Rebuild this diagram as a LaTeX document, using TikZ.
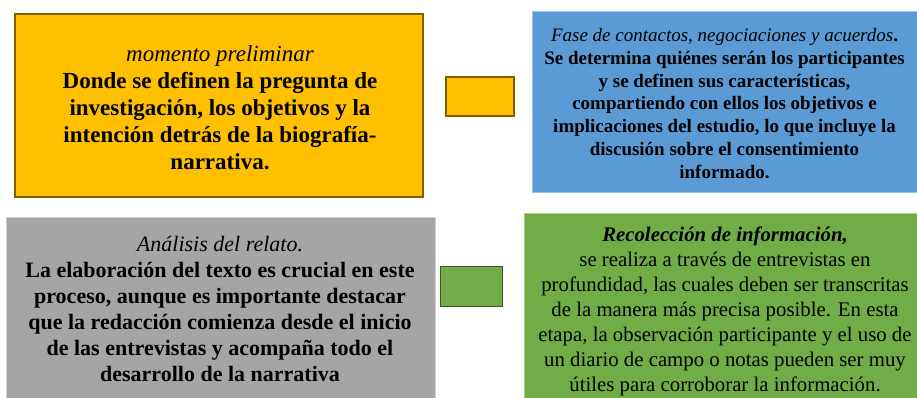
\documentclass[tikz,border=0pt]{standalone}
\usepackage{fontspec}
\setmainfont{Liberation Serif}
\definecolor{yel}{HTML}{FFC000}
\definecolor{yelb}{HTML}{7F6000}
\definecolor{blu}{HTML}{5B9BD5}
\definecolor{blub}{HTML}{9DC3E6}
\definecolor{gry}{HTML}{A5A5A5}
\definecolor{gryb}{HTML}{D0D0D0}
\definecolor{grn}{HTML}{70AD47}
\definecolor{grnb}{HTML}{A9D18E}
\definecolor{grnd}{HTML}{385723}
\tikzset{
  card/.style={inner sep=0pt, align=center, text=black},
}
\begin{document}
\begin{tikzpicture}[x=1pt,y=-1pt]
\useasboundingbox (0,0) rectangle (917,398);
% yellow box
\draw[yelb, line width=2pt, fill=yel] (15,14) rectangle (423,197);
\node[card, font=\fontsize{23}{27}\selectfont\bfseries] (pre) at (220,108)
  {\textit{\mdseries momento preliminar}\\Donde se definen la pregunta de\\investigación, los objetivos y la\\intención detrás de la biografía-\\narrativa.};
% small yellow
\draw[yelb, line width=1.5pt, fill=yel] (446,77) rectangle (514,116);
\node (sy) at (480,96.5) {};
% blue box
\draw[blub, line width=1pt, fill=blu] (532,12) rectangle (917,192);
\node[card, font=\fontsize{19}{22.8}\selectfont\bfseries] (fase) at (724.5,103.5)
  {\textit{\mdseries Fase de contactos, negociaciones y acuerdos}.\\Se determina quiénes serán los participantes\\y se definen sus características,\\compartiendo con ellos los objetivos e\\implicaciones del estudio, lo que incluye la\\discusión sobre el consentimiento\\informado.};
% gray box
\draw[gryb, line width=1pt, fill=gry] (6,217) rectangle (435,398);
\node[card, font=\fontsize{22}{26}\selectfont\bfseries] (ana) at (220,309)
  {\textit{\mdseries Análisis del relato.}\\La elaboración del texto es crucial en este\\proceso, aunque es importante destacar\\que la redacción comienza desde el inicio\\de las entrevistas y acompaña todo el\\desarrollo de la narrativa};
% small green
\draw[grnd, line width=1pt, fill=grn] (440,266) rectangle (502,306);
\node (sg) at (471,286) {};
% green box
\draw[grnb, line width=1pt, fill=grn] (524,213) rectangle (917,398);
\node[card, font=\fontsize{20.8}{25}\selectfont] (rec) at (725,311.5)
  {\textbf{\textit{Recolección de información,}}\\se realiza  a través de entrevistas en\\profundidad, las cuales deben ser transcritas\\de la manera más precisa posible. En esta\\etapa, la observación participante y el uso de\\un diario de campo o notas pueden ser muy\\útiles para corroborar la información.};
\end{tikzpicture}
\end{document}
